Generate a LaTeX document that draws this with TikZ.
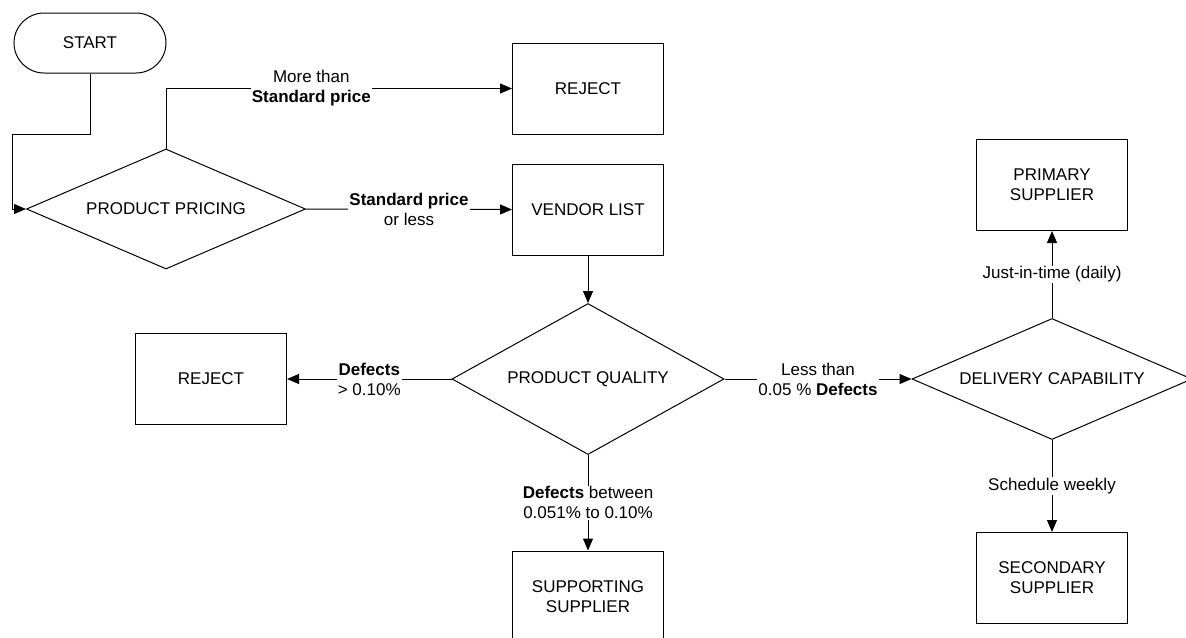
\documentclass[tikz,border=0pt]{standalone}
\usepackage{fontspec}
\setmainfont{Liberation Sans}
\usetikzlibrary{shapes.geometric,arrows.meta}

\tikzset{
  box/.style={draw, minimum width=75.5pt, minimum height=45.5pt, align=center},
  decision/.style={draw, diamond, aspect=2.5, inner sep=0pt},
  flow/.style={-{Triangle[length=6pt,width=5pt]}},
  lbl/.style={fill=white, align=center, inner sep=0.5pt}
}

\begin{document}
\begin{tikzpicture}[x=0.5pt, y=-0.5pt, line width=0.5pt, font=\fontsize{8.5}{10}\selectfont]
    \useasboundingbox (0,0) rectangle (1186,637);
    \clip (0,0) rectangle (1186,637);

    \node[draw, rounded corners=15pt, minimum width=76pt, minimum height=30pt] (start) at (90,43) {START};
    \node[decision, minimum width=139.5pt, minimum height=60pt] (pricing) at (166,209) {PRODUCT PRICING};
    \node[box] (reject1) at (588,88.5) {REJECT};
    \node[box] (vendor) at (588,209.5) {VENDOR LIST};
    \node[decision, minimum width=136pt, minimum height=75.5pt] (quality) at (588,379) {PRODUCT QUALITY};
    \node[box] (reject2) at (211,379) {REJECT};
    \node[box] (support) at (588,596.5) {SUPPORTING\\SUPPLIER};
    \node[decision, minimum width=140pt, minimum height=60.5pt] (delivery) at (1052,379) {DELIVERY CAPABILITY};
    \node[box] (primary) at (1052,185) {PRIMARY\\SUPPLIER};
    \node[box] (secondary) at (1052,578) {SECONDARY\\SUPPLIER};

    \draw[flow] (start.south) |- ++(-78,61) |- (pricing.west);
    \draw[flow] (pricing.north) |- (reject1.west)
      node[lbl, pos=0.71] {More than\\\textbf{Standard price}};
    \draw[flow] (pricing.east) -- (vendor.west)
      node[lbl, midway] {\textbf{Standard price}\\or less};
    \draw[flow] (vendor.south) -- (quality.north);
    \draw[flow] (quality.west) -- (reject2.east)
      node[lbl, midway] {\textbf{Defects}\\> 0.10\%};
    \draw[flow] (quality.east) -- (delivery.west)
      node[lbl, midway] {Less than\\0.05 \% \textbf{Defects}};
    \draw[flow] (quality.south) -- (support.north)
      node[lbl, midway] {\textbf{Defects} between\\0.051\% to 0.10\%};
    \draw[flow] (delivery.north) -- (primary.south)
      node[lbl, midway] {Just-in-time (daily)};
    \draw[flow] (delivery.south) -- (secondary.north)
      node[lbl, midway] {Schedule weekly};
\end{tikzpicture}
\end{document}
